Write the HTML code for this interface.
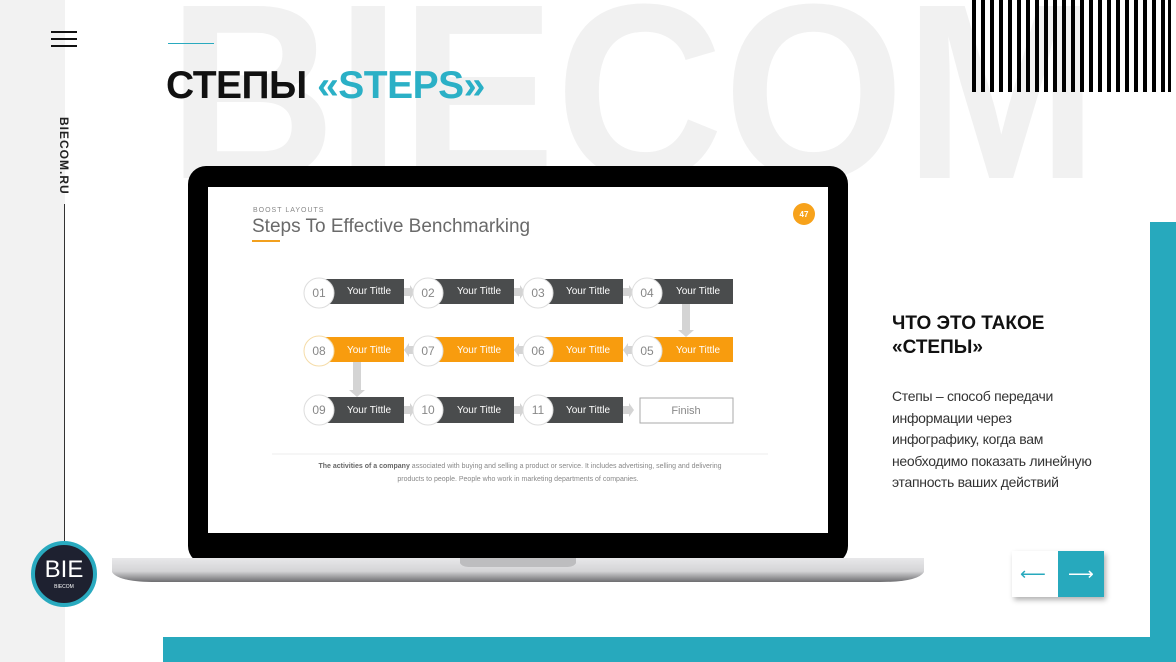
<!DOCTYPE html>
<html><head><meta charset="utf-8"><style>
body{margin:0;width:1176px;height:662px;overflow:hidden;background:#fff;position:relative;font-family:"Liberation Sans","Noto Sans CJK SC",sans-serif}
.a{position:absolute}
</style></head><body>
<div class="a" style="left:0;top:0;width:65px;height:662px;background:#f2f2f2"></div>
<div class="a" style="left:0;top:0;width:1176px;height:662px;overflow:hidden">
<div class="a" style="left:168px;top:-33px;font-size:250px;font-weight:bold;color:#f1f1f1;line-height:1;white-space:nowrap;transform:scaleX(0.93);transform-origin:0 0">BIECOM</div>
</div>
<div class="a" style="left:51px;top:31px;width:26px;height:2px;background:#111"></div>
<div class="a" style="left:51px;top:38px;width:26px;height:2px;background:#111"></div>
<div class="a" style="left:51px;top:45px;width:26px;height:2px;background:#111"></div>
<div class="a" style="left:34px;top:140px;width:60px;transform:rotate(90deg);font-size:12px;font-weight:bold;color:#222;letter-spacing:1px;text-align:center;line-height:14px">BIECOM.RU</div>
<div class="a" style="left:64px;top:204px;width:1px;height:340px;background:#333"></div>
<div class="a" style="left:31px;top:541px;width:58px;height:58px;border-radius:50%;background:#1e2130;border:4px solid #29aabf;color:#fff;text-align:center">
<div style="font-size:24px;line-height:24px;margin-top:13px">BIE</div><div style="font-size:5px;margin-top:2px">BIECOM</div></div>
<div class="a" style="left:168px;top:43px;width:46px;height:1px;background:#29aabf"></div>
<div class="a" style="left:166px;top:64px;font-size:39px;font-weight:bold;color:#111;white-space:nowrap;letter-spacing:-0.5px">СТЕПЫ <span style="color:#2bb0c6">«STEPS»</span></div>
<svg class="a" style="left:0;top:0" width="1176" height="662">
<g fill="#000">
<rect x="972" y="0" width="4" height="92"/><rect x="981" y="0" width="4" height="92"/><rect x="990" y="0" width="4" height="92"/><rect x="999" y="0" width="4" height="92"/><rect x="1008" y="0" width="4" height="92"/><rect x="1017" y="0" width="4" height="92"/><rect x="1026" y="0" width="4" height="92"/><rect x="1035" y="0" width="4" height="92"/><rect x="1044" y="0" width="4" height="92"/><rect x="1053" y="0" width="4" height="92"/><rect x="1062" y="0" width="4" height="92"/><rect x="1071" y="0" width="4" height="92"/><rect x="1080" y="0" width="4" height="92"/><rect x="1089" y="0" width="4" height="92"/><rect x="1098" y="0" width="4" height="92"/><rect x="1107" y="0" width="4" height="92"/><rect x="1116" y="0" width="4" height="92"/><rect x="1125" y="0" width="4" height="92"/><rect x="1134" y="0" width="4" height="92"/><rect x="1143" y="0" width="4" height="92"/><rect x="1152" y="0" width="4" height="92"/><rect x="1161" y="0" width="4" height="92"/><rect x="1168" y="0" width="3" height="92"/>
</g>
<rect x="1150" y="222" width="26" height="440" fill="#27a9bd"/>
<rect x="163" y="637" width="1013" height="25" fill="#27a9bd"/>
<defs><linearGradient id="s" x1="0" y1="0" x2="0" y2="1"><stop offset="0" stop-color="#e8e8ea"/><stop offset=".55" stop-color="#d4d4d6"/><stop offset="1" stop-color="#6d6d70"/></linearGradient></defs>
<rect x="188" y="166" width="660" height="398" rx="18" fill="#000"/>
<rect x="208" y="187" width="620" height="346" fill="#fff"/>
<path d="M112 558 H924 V572 Q918 582 880 582 H156 Q118 582 112 572 Z" fill="url(#s)"/>
<path d="M460 558 H576 V563 Q574 567 566 567 H470 Q462 567 460 563 Z" fill="#bdbdbf"/>
<g font-family="Liberation Sans, sans-serif">
<text x="253" y="212" font-size="7" fill="#888" letter-spacing="1">BOOST LAYOUTS</text>
<text x="252" y="232" font-size="19" fill="#6a6a6a">Steps To Effective Benchmarking</text>
<rect x="252" y="240" width="28" height="2" fill="#f2a01e"/>
<circle cx="804" cy="214" r="11" fill="#f7a21b"/>
<text x="804" y="217" font-size="8" fill="#fff" text-anchor="middle" font-weight="bold">47</text>
<g fill="#d4d4d4">
<polygon points="404,288 410,288 410,285 415,292 410,299 410,296 404,296"/>
<polygon points="514,288 520,288 520,285 525,292 520,299 520,296 514,296"/>
<polygon points="623,288 629,288 629,285 634,292 629,299 629,296 623,296"/>
<polygon points="404,406 410,406 410,403 415,410 410,417 410,414 404,414"/>
<polygon points="514,406 520,406 520,403 525,410 520,417 520,414 514,414"/>
<polygon points="623,406 629,406 629,403 634,410 629,417 629,414 623,414"/>
<polygon points="415,346 409,346 409,343 404,350 409,357 409,354 415,354"/>
<polygon points="525,346 519,346 519,343 514,350 519,357 519,354 525,354"/>
<polygon points="634,346 628,346 628,343 623,350 628,357 628,354 634,354"/>
<polygon points="682,304 690,304 690,330 694,330 686,337 678,330 682,330"/>
<polygon points="353,362 361,362 361,390 365,390 357,397 349,390 353,390"/>
</g>
<g font-size="10" text-anchor="middle">
<rect x="318" y="279" width="86" height="25" fill="#4a4c4d"/><rect x="428" y="279" width="86" height="25" fill="#4a4c4d"/><rect x="537" y="279" width="86" height="25" fill="#4a4c4d"/><rect x="647" y="279" width="86" height="25" fill="#4a4c4d"/>
<rect x="318" y="337" width="86" height="25" fill="#f89c0e"/><rect x="428" y="337" width="86" height="25" fill="#f89c0e"/><rect x="537" y="337" width="86" height="25" fill="#f89c0e"/><rect x="647" y="337" width="86" height="25" fill="#f89c0e"/>
<rect x="318" y="397" width="86" height="26" fill="#4a4c4d"/><rect x="428" y="397" width="86" height="26" fill="#4a4c4d"/><rect x="537" y="397" width="86" height="26" fill="#4a4c4d"/>
<rect x="640" y="398" width="93" height="25" fill="#fff" stroke="#aaa"/>
<text x="686" y="414" fill="#888" font-size="11">Finish</text>
<g fill="#fff">
<text x="369" y="294">Your Tittle</text><text x="479" y="294">Your Tittle</text><text x="588" y="294">Your Tittle</text><text x="698" y="294">Your Tittle</text>
<text x="369" y="353">Your Tittle</text><text x="479" y="353">Your Tittle</text><text x="588" y="353">Your Tittle</text><text x="698" y="353">Your Tittle</text>
<text x="369" y="413">Your Tittle</text><text x="479" y="413">Your Tittle</text><text x="588" y="413">Your Tittle</text>
</g>
<g fill="#fff" stroke="#ddd">
<circle cx="319" cy="293" r="15"/><circle cx="428" cy="293" r="15"/><circle cx="538" cy="293" r="15"/><circle cx="647" cy="293" r="15"/>
<circle cx="319" cy="351" r="15" stroke="#f5dca8"/><circle cx="428" cy="351" r="15"/><circle cx="538" cy="351" r="15"/><circle cx="647" cy="351" r="15"/>
<circle cx="319" cy="410" r="15"/><circle cx="428" cy="410" r="15"/><circle cx="538" cy="410" r="15"/>
</g>
<g fill="#888" font-size="12">
<text x="319" y="297">01</text><text x="428" y="297">02</text><text x="538" y="297">03</text><text x="647" y="297">04</text>
<text x="319" y="355">08</text><text x="428" y="355">07</text><text x="538" y="355">06</text><text x="647" y="355">05</text>
<text x="319" y="414">09</text><text x="428" y="414">10</text><text x="538" y="414">11</text>
</g></g>
<line x1="272" y1="454" x2="768" y2="454" stroke="#eee"/>
<text x="520" y="468" font-size="7" fill="#888" text-anchor="middle"><tspan font-weight="bold" fill="#666">The activities of a company</tspan> associated with buying and selling a product or service. It includes advertising, selling and delivering</text>
<text x="518" y="481" font-size="7" fill="#888" text-anchor="middle">products to people. People who work in marketing departments of companies.</text>
</g>
</svg>
<div class="a" style="left:892px;top:312px;font-size:19px;font-weight:bold;color:#111;line-height:24px">ЧТО ЭТО ТАКОЕ<br>«СТЕПЫ»</div>
<div class="a" style="left:892px;top:386px;font-size:14px;color:#333;line-height:21.5px;width:240px;letter-spacing:-0.3px">Степы – способ передачи<br>информации через<br>инфографику, когда вам<br>необходимо показать линейную<br>этапность ваших действий</div>
<div class="a" style="left:1012px;top:551px;width:92px;height:46px;box-shadow:2px 3px 5px rgba(0,0,0,.3);background:#fff">
<div class="a" style="left:46px;top:0;width:46px;height:46px;background:#27a9bd"></div>
<div class="a" style="left:8px;top:13px;color:#27a9bd;font-size:18px">⟵</div>
<div class="a" style="left:56px;top:13px;color:#fff;font-size:18px">⟶</div>
</div>
</body></html>
